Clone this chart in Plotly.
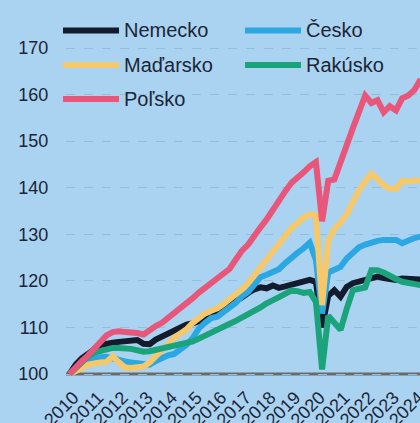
import plotly.graph_objects as go

# Quarterly index, 2010 Q1 = 100 (points placed at mid-quarter)
quarters = [2010 + i / 4 + 0.125 for i in range(58)]

nemecko = [100, 102, 103.4, 104.5, 105.3, 106.2, 106.6, 106.7, 106.9, 107, 107.2, 107.3, 106.5, 106.4,
           107.4, 108, 108.8, 109.5, 110, 110.6, 110.9, 111.2, 111.8, 112.2, 113, 113.8, 114.6, 115.5,
           116.5, 117.4, 118.2, 118.6, 118.4, 119, 118.5, 118.8, 119.2, 119.7, 120, 120.2, 119.8, 110,
           116.8, 118, 116.6, 118.7, 119.5, 119.8, 120, 120.4, 120.9, 120.6, 120.4, 120.2, 120.5, 120.4,
           120.2, 120.3]
cesko = [100, 101.2, 102.3, 103, 103.4, 103.6, 103.7, 103.3, 103, 102.7, 102.5, 102.4, 102.2, 102,
         102.8, 103.5, 104, 104.3, 105.3, 106.3, 107.7, 109.8, 111, 112, 112.3, 113.2, 114.2, 115.3,
         116.7, 117.6, 119.2, 120.8, 121.3, 122, 122.5, 123.8, 125.1, 126, 127, 128.2, 124.5, 113,
         121.8, 122.3, 123, 124.8, 126, 127.2, 127.8, 128.3, 128.6, 128.8, 128.8, 128.8, 128.1, 128.8,
         129.2, 129.5]
madarsko = [100, 100.8, 101.3, 102, 102.4, 102.5, 102.6, 103.8, 102.5, 101.4, 101.3, 101.4, 101.6, 102.5,
            103.8, 105, 106.7, 107.8, 108.7, 109.6, 111, 112, 113, 113.6, 114.1, 115, 116, 117.2,
            118.2, 119.5, 121.2, 122.8, 124.5, 126.3, 128, 129.3, 131.3, 132.4, 133.6, 134.3, 134.1, 114.8,
            128.6, 131.2, 132.5, 134.3, 136.8, 139.5, 141.3, 143, 141.8, 140.5, 139.8, 139.7, 141.5, 141.3,
            141.6, 141.5]
rakusko = [100, 101.3, 102.8, 103.8, 104.6, 105, 105.3, 105.6, 105.6, 105.6, 105.4, 105.1, 104.8, 104.9,
           105.2, 105.5, 105.8, 106.1, 106.3, 106.7, 107, 107.6, 108.3, 108.8, 109.6, 110.2, 110.8, 111.4,
           112.1, 112.7, 113.4, 114.3, 115.2, 116, 116.5, 117.2, 117.9, 117.8, 117.4, 117.6, 115.5, 101,
           112.5, 111, 109.5, 114, 118, 118.3, 118.6, 122.3, 122.3, 121.8, 121, 120.4, 119.8, 119.5,
           119.2, 119.1]
polsko = [100, 101.5, 102.8, 104, 105.5, 107, 108.3, 109, 109.2, 109, 109, 108.8, 108.5, 109.5,
          110.3, 111, 112, 113.2, 114, 115, 116.3, 117.5, 118.6, 119.6, 120.6, 121.8, 122.6, 124.6,
          126.5, 127.8, 129.8, 131.5, 133.2, 135.3, 137.5, 139.2, 141, 142, 143.3, 144.6, 145.5, 132.8,
          141.5, 141.8, 145.8, 149.2, 152.8, 156.3, 159.8, 158.2, 158.8, 156.2, 157.5, 156.6, 159.2, 159.8,
          161, 163.3]

series_names = ["Nemecko", "Česko", "Maďarsko", "Rakúsko", "Poľsko"]
series_values = [nemecko, cesko, madarsko, rakusko, polsko]
series_colors = ["#141B2D", "#2BA8E2", "#F5C96B", "#1BA37B", "#E8567A"]

year_ticks = list(range(2010, 2025))
year_labels = [str(y) for y in year_ticks]
y_ticks = [100, 110, 120, 130, 140, 150, 160, 170]
baseline = 100

BG = "#AAD3F1"
TXT = "#1B2536"
FONT = "Liberation Sans, Arial, sans-serif"

fig = go.Figure()
for name, vals, col in zip(series_names, series_values, series_colors):
    fig.add_trace(go.Scatter(x=quarters, y=vals, mode="lines", name=name,
                             line=dict(color=col, width=6, shape="linear"),
                             showlegend=False, hoverinfo="skip"))

# baseline at 100
fig.add_shape(type="line", xref="paper", yref="y", x0=0, x1=1, y0=baseline, y1=baseline,
              line=dict(color="#6A6A6A", width=3), layer="below")

# custom legend (2 columns x 3 rows)
plot_left, plot_w, plot_h = 66, 354, 377
col_x = [63, 245]
row_y = [30.5, 65, 99]
for k, (name, col) in enumerate(zip(series_names, series_colors)):
    cx = col_x[k % 2]
    ry = row_y[k // 2]
    x0 = (cx - plot_left) / plot_w
    x1 = (cx + 56 - plot_left) / plot_w
    yy = (plot_h - ry) / plot_h
    fig.add_shape(type="line", xref="paper", yref="paper", x0=x0, x1=x1, y0=yy, y1=yy,
                  line=dict(color=col, width=6))
    fig.add_annotation(xref="paper", yref="paper", x=(cx + 59 - plot_left) / plot_w, y=yy,
                       text=name, showarrow=False, xanchor="left", yanchor="middle",
                       font=dict(size=20, color=TXT, family=FONT))

fig.update_layout(
    width=420, height=423,
    margin=dict(l=66, r=0, t=0, b=46, autoexpand=False),
    paper_bgcolor=BG, plot_bgcolor=BG,
    font=dict(family=FONT, color=TXT, size=18),
    showlegend=False,
    xaxis=dict(range=[2009.98, 2024.35], tickvals=year_ticks, ticktext=year_labels,
               tickangle=-45, showgrid=False, zeroline=False, showline=False, automargin=False,
               ticks="outside", ticklen=0, tickcolor="rgba(0,0,0,0)",
               ticklabelshift=7, ticklabelstandoff=2, ticklabeloverflow="allow",
               tickfont=dict(size=18, color=TXT, family=FONT)),
    yaxis=dict(range=[99.36, 180.31], tickvals=y_ticks, showgrid=True, automargin=False,
               gridcolor="#8FBEDF", griddash="dash", gridwidth=1, zeroline=False,
               showline=False, ticks="outside", ticklen=13, tickcolor="rgba(0,0,0,0)",
               tickfont=dict(size=18, color=TXT, family=FONT)),
)

fig.write_html("out.html", config={"displayModeBar": False},
               post_script="document.body.style.margin='0';document.body.style.overflow='hidden';")
